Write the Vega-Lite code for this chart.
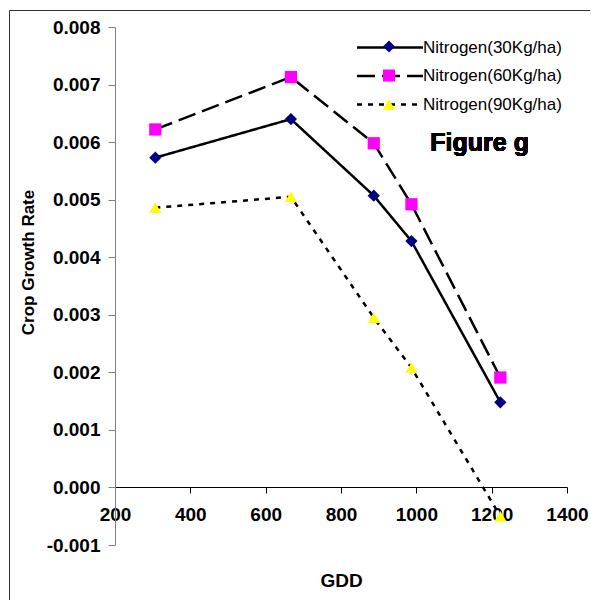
{
  "$schema": "https://vega.github.io/schema/vega-lite/v6.json",
  "width": 581,
  "height": 595,
  "autosize": {"type": "none"},
  "padding": {"left": 9, "top": 10, "right": 0, "bottom": 0},
  "background": "white",
  "config": {
    "view": {"stroke": "#333333", "strokeWidth": 1},
    "font": "Liberation Sans"
  },
  "data": {
    "values": [
      {"series": "Nitrogen(30Kg/ha)", "gdd": 307, "cgr": 0.00573},
      {"series": "Nitrogen(30Kg/ha)", "gdd": 667, "cgr": 0.00640},
      {"series": "Nitrogen(30Kg/ha)", "gdd": 887, "cgr": 0.00507},
      {"series": "Nitrogen(30Kg/ha)", "gdd": 987, "cgr": 0.00428},
      {"series": "Nitrogen(30Kg/ha)", "gdd": 1223, "cgr": 0.00148},
      {"series": "Nitrogen(60Kg/ha)", "gdd": 307, "cgr": 0.00622},
      {"series": "Nitrogen(60Kg/ha)", "gdd": 667, "cgr": 0.00713},
      {"series": "Nitrogen(60Kg/ha)", "gdd": 887, "cgr": 0.00598},
      {"series": "Nitrogen(60Kg/ha)", "gdd": 987, "cgr": 0.00492},
      {"series": "Nitrogen(60Kg/ha)", "gdd": 1223, "cgr": 0.00191},
      {"series": "Nitrogen(90Kg/ha)", "gdd": 307, "cgr": 0.00486},
      {"series": "Nitrogen(90Kg/ha)", "gdd": 667, "cgr": 0.00505},
      {"series": "Nitrogen(90Kg/ha)", "gdd": 887, "cgr": 0.00295},
      {"series": "Nitrogen(90Kg/ha)", "gdd": 987, "cgr": 0.00208},
      {"series": "Nitrogen(90Kg/ha)", "gdd": 1223, "cgr": -0.00050}
    ]
  },
  "encoding": {
    "x": {
      "field": "gdd", "type": "quantitative",
      "scale": {"domain": [200, 1400], "range": [106, 558], "nice": false, "zero": false},
      "axis": {
        "title": "GDD", "offset": -118, "grid": false,
        "values": [200, 400, 600, 800, 1000, 1200, 1400], "format": "d",
        "domainColor": "black", "tickColor": "black", "tickSize": 6,
        "labelFont": "Liberation Sans", "labelFontSize": 19, "labelFontWeight": "bold", "labelColor": "black",
        "labelPadding": 12, "labelFlush": false,
        "titleFont": "Liberation Sans", "titleFontSize": 19, "titleFontWeight": "bold", "titleColor": "black",
        "titleY": 93, "titleBaseline": "middle", "titleX": 332, "titleAlign": "center"
      }
    },
    "y": {
      "field": "cgr", "type": "quantitative",
      "scale": {"domain": [-0.001, 0.008], "range": [535, 17], "nice": false, "zero": false},
      "axis": {
        "title": "Crop Growth Rate", "offset": -106, "grid": false,
        "values": [-0.001, 0, 0.001, 0.002, 0.003, 0.004, 0.005, 0.006, 0.007, 0.008],
        "labelExpr": "replace(format(datum.value, '.3f'), '\u2212', '-')",
        "domainColor": "#808080", "tickColor": "#808080", "tickSize": 7,
        "labelFont": "Liberation Sans", "labelFontSize": 19, "labelFontWeight": "bold", "labelColor": "black",
        "labelPadding": 8, "labelFlush": false,
        "titleFont": "Liberation Sans", "titleFontSize": 17, "titleFontWeight": "bold", "titleColor": "black",
        "titleAngle": -90, "titleX": -87, "titleY": 252, "titleAlign": "center", "titleBaseline": "middle"
      }
    }
  },
  "layer": [
    {
      "mark": {"type": "line", "color": "black", "strokeWidth": 2.5},
      "encoding": {
        "strokeDash": {
          "field": "series", "type": "nominal",
          "scale": {"range": [[1, 0], [18, 7], [5, 6]]},
          "legend": {
            "title": null, "orient": "none", "legendX": 368.5, "legendY": 25,
            "symbolType": "M-3,0H3", "symbolSize": 484, "symbolStrokeColor": "black", "symbolStrokeWidth": 2.5,
            "labelFont": "Liberation Sans", "labelFontSize": 17, "labelColor": "black", "labelOffset": 20.5,
            "rowPadding": 7.5, "padding": 0
          }
        }
      }
    },
    {
      "mark": {"type": "point", "filled": true, "size": 150, "opacity": 1, "strokeWidth": 0},
      "encoding": {
        "shape": {
          "field": "series", "type": "nominal",
          "scale": {"domain": ["Nitrogen(30Kg/ha)", "Nitrogen(60Kg/ha)", "Nitrogen(90Kg/ha)"], "range": ["diamond", "square", "triangle-up"]},
          "legend": {
            "title": null, "orient": "none", "legendX": 371.5, "legendY": 28,
            "symbolSize": 144, "symbolStrokeWidth": 0, "symbolOpacity": 1,
            "labelExpr": "''", "labelFontSize": 17, "rowPadding": 11, "padding": 0
          }
        },
        "fill": {
          "field": "series", "type": "nominal",
          "scale": {"domain": ["Nitrogen(30Kg/ha)", "Nitrogen(60Kg/ha)", "Nitrogen(90Kg/ha)"], "range": ["#000080", "#FF00FF", "#FFFF00"]}
        }
      }
    },
    {
      "mark": {"type": "text", "text": "Figure g", "font": "Liberation Sans", "fontSize": 25, "fontWeight": "bold", "align": "center", "baseline": "middle", "color": "black"},
      "encoding": {
        "x": {"datum": 1168, "type": "quantitative"},
        "y": {"datum": 0.00598, "type": "quantitative"}
      }
    }
  ]
}
